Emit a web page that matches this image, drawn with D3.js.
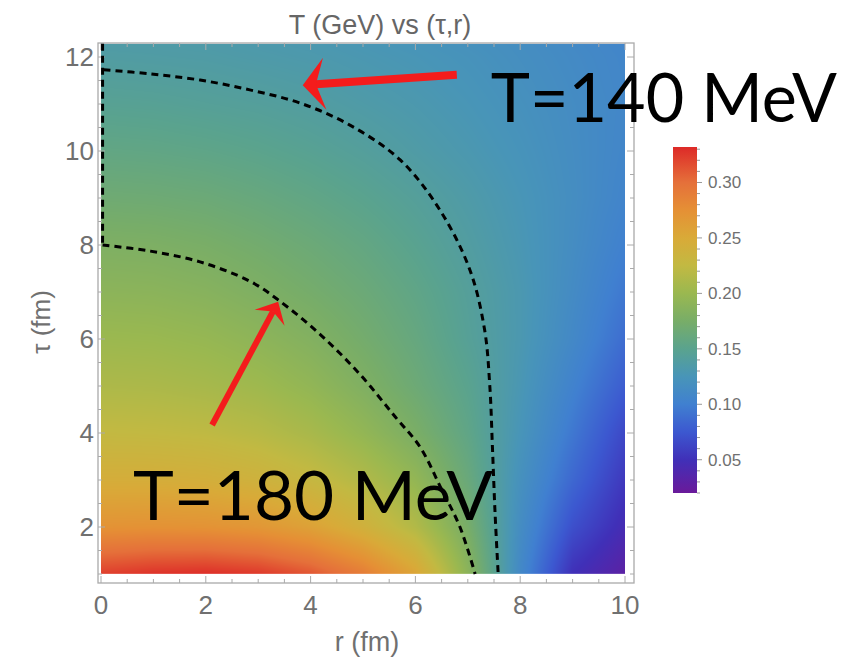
<!DOCTYPE html>
<html>
<head>
<meta charset="utf-8">
<script src="https://cdn.jsdelivr.net/npm/d3@7"></script>
<style>
  body { margin: 0; background: #fff; }
  svg { display: block; font-family: "Liberation Sans", Arial, sans-serif; }
</style>
</head>
<body>
<svg width="854" height="658"></svg>
<script>
const rGrid = [0, 1, 2, 3, 4, 5, 6, 7, 8, 9, 10];
const tauGrid = [1, 2, 3, 4, 5, 6, 7, 8, 9, 10, 11, 12, 12.3];
const tempRows = [
  [0.322, 0.328, 0.330, 0.325, 0.312, 0.290, 0.255, 0.190, 0.110, 0.050, 0.030],
  [0.272, 0.273, 0.272, 0.268, 0.258, 0.240, 0.215, 0.175, 0.115, 0.070, 0.045],
  [0.245, 0.245, 0.243, 0.238, 0.229, 0.215, 0.195, 0.163, 0.120, 0.085, 0.055],
  [0.226, 0.225, 0.223, 0.218, 0.209, 0.195, 0.177, 0.155, 0.125, 0.095, 0.065],
  [0.212, 0.211, 0.208, 0.203, 0.194, 0.181, 0.166, 0.150, 0.128, 0.103, 0.078],
  [0.201, 0.200, 0.197, 0.191, 0.183, 0.172, 0.160, 0.145, 0.130, 0.110, 0.088],
  [0.190, 0.189, 0.186, 0.180, 0.173, 0.165, 0.155, 0.143, 0.130, 0.113, 0.095],
  [0.180, 0.179, 0.176, 0.171, 0.165, 0.158, 0.149, 0.139, 0.128, 0.115, 0.101],
  [0.168, 0.167, 0.165, 0.161, 0.156, 0.150, 0.143, 0.135, 0.126, 0.116, 0.105],
  [0.157, 0.156, 0.154, 0.151, 0.147, 0.142, 0.136, 0.130, 0.123, 0.115, 0.107],
  [0.147, 0.146, 0.144, 0.142, 0.139, 0.135, 0.131, 0.126, 0.120, 0.114, 0.108],
  [0.138, 0.137, 0.136, 0.134, 0.132, 0.129, 0.126, 0.122, 0.117, 0.112, 0.107],
  [0.135, 0.135, 0.134, 0.132, 0.130, 0.127, 0.124, 0.120, 0.116, 0.111, 0.106]
];

// dashed contours [r, tau]
const contour180 = [[0.03, 8.0], [0.94, 7.87], [1.89, 7.64], [2.84, 7.23], [3.36, 6.85],
  [4.18, 6.1], [4.94, 5.25], [5.61, 4.35], [6.09, 3.7], [6.5, 2.8], [6.85, 2.0], [7.14, 1.0]];
const edgeLine = [[0.03, 12.28], [0.03, 8.0]];
const contour140 = [[0.05, 11.73], [0.94, 11.64], [1.89, 11.51], [2.84, 11.3], [3.8, 11.02],
  [4.75, 10.55], [5.71, 9.81], [6.47, 8.74], [7.04, 7.47], [7.32, 6.2], [7.42, 5.0],
  [7.47, 3.7], [7.52, 2.3], [7.58, 1.0]];

const xTicks = [0, 2, 4, 6, 8, 10];
const yTicks = [2, 4, 6, 8, 10, 12];
const barTicks = [0.05, 0.10, 0.15, 0.20, 0.25, 0.30];
const barRange = [0.02, 0.332];

const colorStops = [0.02, 0.05, 0.075, 0.10, 0.125, 0.15, 0.175, 0.20, 0.225, 0.25, 0.275, 0.30, 0.332];
const colorList = ['#6a1a9a', '#4030b8', '#3c58d0', '#4080d0', '#4895b8', '#5aa38e', '#78ad68',
  '#9ab850', '#c2b942', '#d9aa38', '#e59035', '#e5703a', '#dd2a28'];

const arrows = [
  {from: [6.79, 11.62], to: [3.85, 11.40], width: 8, headLen: 22, headHalf: 26},
  {from: [2.12, 4.17], to: [3.38, 6.79], width: 6, headLen: 18, headHalf: 17}
];
const labels = [
  {text: 'T=140 MeV', at: [7.44, 10.62], size: 68, len: 346},
  {text: 'T=180 MeV', at: [0.61, 2.15], size: 68, len: 360}
];

const svg = d3.select('svg');
const x = d3.scaleLinear().domain([0, 10]).range([101, 625]);
const y = d3.scaleLinear().domain([2, 12]).range([527, 57]);
const color = d3.scaleLinear().domain(colorStops).range(colorList).clamp(true);
const tauTop = 12.28;
const tauBottom = 1;

// bilinear lookup in the sampled grid
const field = (r, tau) => {
  const i = Math.max(0, Math.min(rGrid.length - 2, d3.bisectRight(rGrid, r) - 1));
  const j = Math.max(0, Math.min(tauGrid.length - 2, d3.bisectRight(tauGrid, tau) - 1));
  const fr = Math.max(0, Math.min(1, (r - rGrid[i]) / (rGrid[i + 1] - rGrid[i])));
  const ft = Math.max(0, Math.min(1, (tau - tauGrid[j]) / (tauGrid[j + 1] - tauGrid[j])));
  const a = tempRows[j][i] * (1 - fr) + tempRows[j][i + 1] * fr;
  const b = tempRows[j + 1][i] * (1 - fr) + tempRows[j + 1][i + 1] * fr;
  return a * (1 - ft) + b * ft;
};

// density image
const x0 = x(0), x1 = x(10), y0 = y(tauTop), y1 = y(tauBottom);
const w = Math.round(x1 - x0), h = Math.round(y1 - y0);
const canvas = document.createElement('canvas');
canvas.width = w; canvas.height = h;
const ctx = canvas.getContext('2d');
const img = ctx.createImageData(w, h);
for (let py = 0; py < h; py++) {
  const tau = y.invert(y0 + py + 0.5);
  for (let px = 0; px < w; px++) {
    const r = x.invert(x0 + px + 0.5);
    const c = d3.rgb(color(field(r, tau)));
    const k = (py * w + px) * 4;
    img.data[k] = c.r; img.data[k + 1] = c.g; img.data[k + 2] = c.b; img.data[k + 3] = 255;
  }
}
ctx.putImageData(img, 0, 0);
svg.append('image')
  .attr('x', x0).attr('y', y0)
  .attr('width', w).attr('height', h)
  .attr('preserveAspectRatio', 'none')
  .attr('href', canvas.toDataURL());

// frame
const fx0 = 98, fx1 = 634, fy0 = 43, fy1 = 583;
const frameColor = '#aaaaaa';
svg.append('rect')
  .attr('x', fx0).attr('y', fy0)
  .attr('width', fx1 - fx0).attr('height', fy1 - fy0)
  .attr('fill', 'none').attr('stroke', frameColor).attr('stroke-width', 1.3);

const ticks = svg.append('g').attr('stroke', frameColor).attr('stroke-width', 1);
d3.range(0, 10.01, 0.5).forEach(v => {
  const len = v % 2 === 0 ? 7 : 4;
  ticks.append('line').attr('x1', x(v)).attr('x2', x(v)).attr('y1', fy1).attr('y2', fy1 - len);
  ticks.append('line').attr('x1', x(v)).attr('x2', x(v)).attr('y1', fy0).attr('y2', fy0 + len);
});
d3.range(1, 12.01, 0.5).forEach(v => {
  const len = v % 2 === 0 ? 7 : 4;
  ticks.append('line').attr('y1', y(v)).attr('y2', y(v)).attr('x1', fx0).attr('x2', fx0 + len);
  ticks.append('line').attr('y1', y(v)).attr('y2', y(v)).attr('x1', fx1).attr('x2', fx1 - len);
});

const tickColor = '#707070';
svg.append('g').selectAll('text').data(xTicks).join('text')
  .attr('x', d => x(d)).attr('y', 614)
  .attr('text-anchor', 'middle').attr('font-size', 26).attr('fill', tickColor)
  .text(d => d);
svg.append('g').selectAll('text').data(yTicks).join('text')
  .attr('x', 94).attr('y', d => y(d) + 9)
  .attr('text-anchor', 'end').attr('font-size', 26).attr('fill', tickColor)
  .text(d => d);

svg.append('text')
  .attr('x', 367).attr('y', 651)
  .attr('text-anchor', 'middle').attr('font-size', 27).attr('fill', tickColor)
  .text('r (fm)');
svg.append('text')
  .attr('transform', 'translate(50, 322) rotate(-90)')
  .attr('text-anchor', 'middle').attr('font-size', 26).attr('fill', tickColor)
  .text('τ (fm)');
svg.append('text')
  .attr('x', 380).attr('y', 34)
  .attr('text-anchor', 'middle').attr('font-size', 27).attr('fill', '#666')
  .text('T (GeV) vs (τ,r)');

// contours
const line = d3.line().x(d => x(d[0])).y(d => y(d[1]));
[contour180, contour140].forEach(pts => {
  svg.append('path')
    .attr('d', line.curve(d3.curveCatmullRom.alpha(0.5))(pts))
    .attr('fill', 'none').attr('stroke', '#000')
    .attr('stroke-width', 3).attr('stroke-dasharray', '7,5');
});
svg.append('path')
  .attr('d', line.curve(d3.curveLinear)(edgeLine))
  .attr('fill', 'none').attr('stroke', '#000')
  .attr('stroke-width', 3).attr('stroke-dasharray', '7,5');

// colour bar
const yb = d3.scaleLinear().domain(barRange).range([493, 147]);
const defs = svg.append('defs');
const grad = defs.append('linearGradient').attr('id', 'bar')
  .attr('x1', 0).attr('y1', 1).attr('x2', 0).attr('y2', 0);
grad.selectAll('stop').data(colorStops).join('stop')
  .attr('offset', d => (d - barRange[0]) / (barRange[1] - barRange[0]))
  .attr('stop-color', (d, i) => colorList[i]);
svg.append('rect')
  .attr('x', 673).attr('y', yb(barRange[1]))
  .attr('width', 24).attr('height', yb(barRange[0]) - yb(barRange[1]))
  .attr('fill', 'url(#bar)');
const barTickG = svg.append('g').attr('stroke', '#999').attr('stroke-width', 1);
d3.range(0.02, 0.3305, 0.01).forEach(v => {
  const major = barTicks.some(t => Math.abs(t - v) < 1e-6);
  barTickG.append('line')
    .attr('x1', 697).attr('x2', 697 + (major ? 5 : 3))
    .attr('y1', yb(v)).attr('y2', yb(v));
});
svg.append('g').selectAll('text').data(barTicks).join('text')
  .attr('x', 708).attr('y', d => yb(d) + 6)
  .attr('font-size', 17).attr('fill', tickColor)
  .text(d => d.toFixed(2));

// red arrows
arrows.forEach(a => {
  const [tx, ty] = [x(a.from[0]), y(a.from[1])];
  const [hx, hy] = [x(a.to[0]), y(a.to[1])];
  const len = Math.hypot(hx - tx, hy - ty);
  const ux = (hx - tx) / len, uy = (hy - ty) / len;
  const nx = -uy, ny = ux;
  const bx = hx - ux * a.headLen, by = hy - uy * a.headLen;
  const notchX = hx - ux * a.headLen * 0.6, notchY = hy - uy * a.headLen * 0.6;
  svg.append('line')
    .attr('x1', tx).attr('y1', ty).attr('x2', notchX).attr('y2', notchY)
    .attr('stroke', '#f41c1c').attr('stroke-width', a.width);
  svg.append('polygon')
    .attr('points', [[hx, hy], [bx + nx * a.headHalf, by + ny * a.headHalf],
      [notchX, notchY], [bx - nx * a.headHalf, by - ny * a.headHalf]].map(p => p.join(',')).join(' '))
    .attr('fill', '#f41c1c');
});

// big annotations
svg.append('g').selectAll('text').data(labels).join('text')
  .attr('x', d => x(d.at[0])).attr('y', d => y(d.at[1]))
  .attr('font-family', 'Lato, "Open Sans", sans-serif')
  .attr('font-size', d => d.size)
  .attr('textLength', d => d.len).attr('lengthAdjust', 'spacingAndGlyphs')
  .attr('fill', '#000')
  .text(d => d.text);
</script>
</body>
</html>
